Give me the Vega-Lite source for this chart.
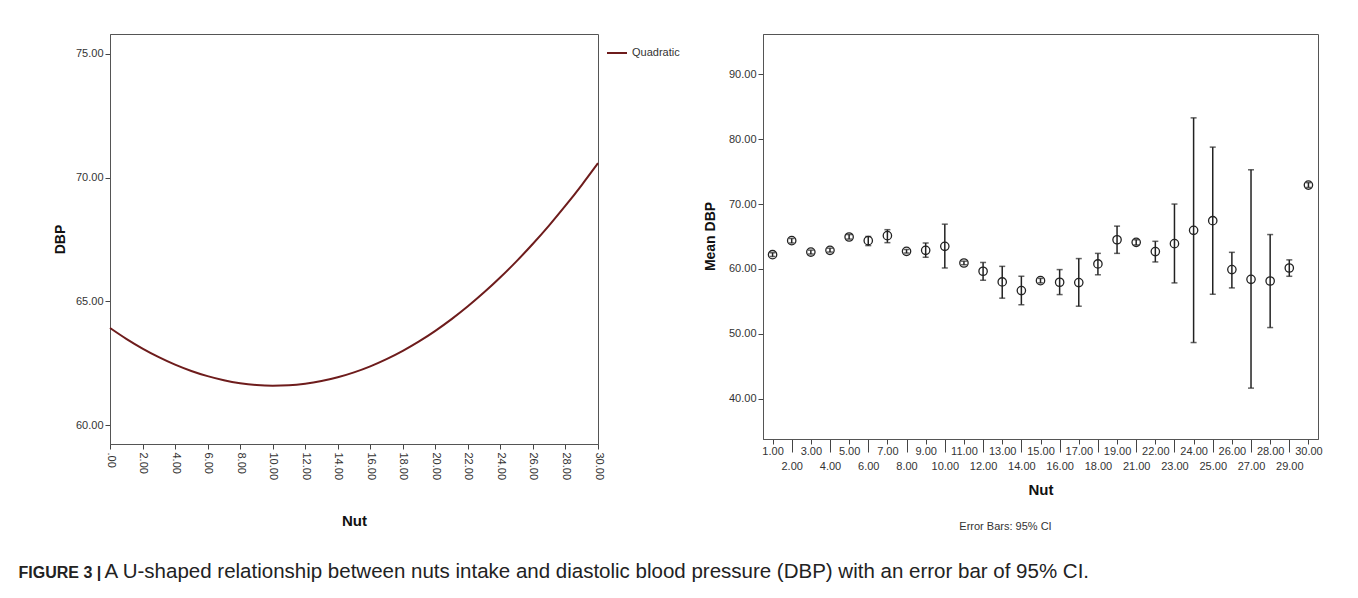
{
  "$schema": "https://vega.github.io/schema/vega-lite/v6.json",
  "background": "white",
  "padding": {"left": 18, "top": 33, "right": 5, "bottom": 5},
  "title": {"text": "FIGURE 3 |", "orient": "bottom", "anchor": "start", "font": "Liberation Sans", "fontSize": 16, "fontWeight": "bold", "color": "#222", "dx": -34, "dy": -17, "offset": 0},
  "vconcat": [
    {
      "title": {"text": "A U-shaped relationship between nuts intake and diastolic blood pressure (DBP) with an error bar of 95% CI.", "orient": "bottom", "anchor": "start", "font": "Liberation Sans", "fontSize": 20.5, "fontWeight": "normal", "color": "#222", "dx": 52, "offset": 29},
      "spacing": 97,
      "hconcat": [
        {
          "width": 488,
          "height": 410,
          "data": {"values": [
            {"Nut": 0, "DBP": 63.93, "model": "Quadratic"},
            {"Nut": 1, "DBP": 63.492, "model": "Quadratic"},
            {"Nut": 2, "DBP": 63.100, "model": "Quadratic"},
            {"Nut": 3, "DBP": 62.754, "model": "Quadratic"},
            {"Nut": 4, "DBP": 62.452, "model": "Quadratic"},
            {"Nut": 5, "DBP": 62.197, "model": "Quadratic"},
            {"Nut": 6, "DBP": 61.987, "model": "Quadratic"},
            {"Nut": 7, "DBP": 61.822, "model": "Quadratic"},
            {"Nut": 8, "DBP": 61.702, "model": "Quadratic"},
            {"Nut": 9, "DBP": 61.628, "model": "Quadratic"},
            {"Nut": 10, "DBP": 61.600, "model": "Quadratic"},
            {"Nut": 11, "DBP": 61.617, "model": "Quadratic"},
            {"Nut": 12, "DBP": 61.680, "model": "Quadratic"},
            {"Nut": 13, "DBP": 61.788, "model": "Quadratic"},
            {"Nut": 14, "DBP": 61.941, "model": "Quadratic"},
            {"Nut": 15, "DBP": 62.140, "model": "Quadratic"},
            {"Nut": 16, "DBP": 62.384, "model": "Quadratic"},
            {"Nut": 17, "DBP": 62.674, "model": "Quadratic"},
            {"Nut": 18, "DBP": 63.009, "model": "Quadratic"},
            {"Nut": 19, "DBP": 63.390, "model": "Quadratic"},
            {"Nut": 20, "DBP": 63.816, "model": "Quadratic"},
            {"Nut": 21, "DBP": 64.288, "model": "Quadratic"},
            {"Nut": 22, "DBP": 64.805, "model": "Quadratic"},
            {"Nut": 23, "DBP": 65.367, "model": "Quadratic"},
            {"Nut": 24, "DBP": 65.975, "model": "Quadratic"},
            {"Nut": 25, "DBP": 66.629, "model": "Quadratic"},
            {"Nut": 26, "DBP": 67.327, "model": "Quadratic"},
            {"Nut": 27, "DBP": 68.072, "model": "Quadratic"},
            {"Nut": 28, "DBP": 68.862, "model": "Quadratic"},
            {"Nut": 29, "DBP": 69.697, "model": "Quadratic"},
            {"Nut": 30, "DBP": 70.578, "model": "Quadratic"}
          ]},
          "mark": {"type": "line", "strokeWidth": 2, "interpolate": "monotone"},
          "encoding": {
            "x": {
              "field": "Nut", "type": "quantitative",
              "scale": {"domain": [0, 30], "nice": false, "zero": false},
              "axis": {
                "values": [0, 2, 4, 6, 8, 10, 12, 14, 16, 18, 20, 22, 24, 26, 28, 30],
                "labelExpr": "datum.value == 0 ? '.00' : format(datum.value, '.2f')",
                "labelAngle": 90, "labelAlign": "left", "labelBaseline": "middle",
                "labelPadding": 3, "labelFlush": false, "labelOverlap": false, "labelBound": false,
                "title": "Nut", "titleY": 76, "titleBaseline": "middle", "titleFontSize": 15
              }
            },
            "y": {
              "field": "DBP", "type": "quantitative",
              "scale": {"domain": [59.25, 75.79], "nice": false, "zero": false},
              "axis": {
                "values": [60, 65, 70, 75], "format": ".2f",
                "title": "DBP", "titleX": -50, "titleY": 205, "titleBaseline": "middle"
              }
            },
            "color": {
              "field": "model", "type": "nominal",
              "scale": {"range": ["#6e1c1c"]},
              "legend": {
                "title": null, "orient": "none", "legendX": 496, "legendY": 8,
                "symbolType": "stroke", "symbolSize": 400, "symbolStrokeWidth": 2,
                "labelFont": "Liberation Sans", "labelFontSize": 11, "labelColor": "#333", "padding": 0
              }
            }
          }
        },
        {
          "width": 555,
          "height": 405,
          "title": {"text": "Error Bars: 95% CI", "orient": "bottom", "anchor": "middle", "font": "Liberation Sans", "fontSize": 11, "fontWeight": "normal", "color": "#333", "dx": -35, "offset": 24},
          "data": {"values": [
            {"Nut": "1.00", "mean": 62.2, "lo": 61.9, "hi": 62.5},
            {"Nut": "2.00", "mean": 64.36, "lo": 64.0, "hi": 64.7},
            {"Nut": "3.00", "mean": 62.6, "lo": 62.3, "hi": 62.9},
            {"Nut": "4.00", "mean": 62.87, "lo": 62.6, "hi": 63.2},
            {"Nut": "5.00", "mean": 64.92, "lo": 64.6, "hi": 65.3},
            {"Nut": "6.00", "mean": 64.36, "lo": 63.6, "hi": 65.0},
            {"Nut": "7.00", "mean": 65.13, "lo": 64.05, "hi": 66.05},
            {"Nut": "8.00", "mean": 62.72, "lo": 62.45, "hi": 63.0},
            {"Nut": "9.00", "mean": 62.87, "lo": 61.8, "hi": 64.0},
            {"Nut": "10.00", "mean": 63.49, "lo": 60.15, "hi": 66.9},
            {"Nut": "11.00", "mean": 60.92, "lo": 60.65, "hi": 61.2},
            {"Nut": "12.00", "mean": 59.64, "lo": 58.26, "hi": 61.0},
            {"Nut": "13.00", "mean": 58.0, "lo": 55.5, "hi": 60.4},
            {"Nut": "14.00", "mean": 56.67, "lo": 54.5, "hi": 58.87},
            {"Nut": "15.00", "mean": 58.2, "lo": 57.85, "hi": 58.55},
            {"Nut": "16.00", "mean": 57.95, "lo": 56.05, "hi": 59.9},
            {"Nut": "17.00", "mean": 57.9, "lo": 54.26, "hi": 61.6},
            {"Nut": "18.00", "mean": 60.77, "lo": 59.1, "hi": 62.4},
            {"Nut": "19.00", "mean": 64.5, "lo": 62.4, "hi": 66.6},
            {"Nut": "21.00", "mean": 64.1, "lo": 63.7, "hi": 64.5},
            {"Nut": "22.00", "mean": 62.67, "lo": 61.08, "hi": 64.26},
            {"Nut": "23.00", "mean": 63.9, "lo": 57.85, "hi": 70.0},
            {"Nut": "24.00", "mean": 65.95, "lo": 48.66, "hi": 83.28},
            {"Nut": "25.00", "mean": 67.44, "lo": 56.1, "hi": 78.77},
            {"Nut": "26.00", "mean": 59.9, "lo": 57.08, "hi": 62.56},
            {"Nut": "27.00", "mean": 58.4, "lo": 41.64, "hi": 75.28},
            {"Nut": "28.00", "mean": 58.15, "lo": 50.97, "hi": 65.3},
            {"Nut": "29.00", "mean": 60.15, "lo": 58.87, "hi": 61.4},
            {"Nut": "30.00", "mean": 72.92, "lo": 72.55, "hi": 73.3}
          ]},
          "encoding": {
            "x": {
              "field": "Nut", "type": "ordinal",
              "scale": {"type": "point", "padding": 0.5, "domain": ["1.00","2.00","3.00","4.00","5.00","6.00","7.00","8.00","9.00","10.00","11.00","12.00","13.00","14.00","15.00","16.00","17.00","18.00","19.00","21.00","22.00","23.00","24.00","25.00","26.00","27.00","28.00","29.00","30.00"]},
              "axis": {
                "labelAngle": 0, "labelAlign": "center", "labelBaseline": "top",
                "labelOverlap": false, "labelFlush": false, "labelBound": false,
                "tickSize": {"condition": {"test": "indexof(['2.00','4.00','6.00','8.00','10.00','12.00','14.00','16.00','18.00','21.00','23.00','25.00','27.00','29.00'], datum.value) >= 0", "value": 13}, "value": 5},
                "labelPadding": {"condition": {"test": "indexof(['2.00','4.00','6.00','8.00','10.00','12.00','14.00','16.00','18.00','21.00','23.00','25.00','27.00','29.00'], datum.value) >= 0", "value": 8}, "value": 1},
                "title": "Nut", "titleY": 50, "titleBaseline": "middle", "titleFontSize": 15
              }
            }
          },
          "layer": [
            {
              "mark": {"type": "rule", "color": "#222", "strokeWidth": 1.5},
              "encoding": {
                "y": {
                  "field": "lo", "type": "quantitative", "title": "Mean DBP",
                  "scale": {"domain": [33.8, 96.2], "nice": false, "zero": false},
                  "axis": {"values": [40, 50, 60, 70, 80, 90], "format": ".2f", "titleX": -53, "titleY": 202, "titleBaseline": "middle"}
                },
                "y2": {"field": "hi"}
              }
            },
            {
              "mark": {"type": "tick", "color": "#222", "thickness": 1.5, "size": 6},
              "encoding": {"y": {"field": "lo", "type": "quantitative", "title": "Mean DBP"}}
            },
            {
              "mark": {"type": "tick", "color": "#222", "thickness": 1.5, "size": 6},
              "encoding": {"y": {"field": "hi", "type": "quantitative", "title": "Mean DBP"}}
            },
            {
              "mark": {"type": "point", "shape": "circle", "filled": false, "color": "#222", "strokeWidth": 1.3, "size": 70, "opacity": 1},
              "encoding": {"y": {"field": "mean", "type": "quantitative", "title": "Mean DBP"}}
            }
          ]
        }
      ]
    }
  ],
  "config": {
    "font": "Liberation Sans",
    "view": {"stroke": "#555", "strokeWidth": 1},
    "axis": {
      "domainColor": "#555", "tickColor": "#444", "labelColor": "#333",
      "labelFont": "Liberation Sans", "labelFontSize": 11,
      "titleFont": "Liberation Sans", "titleFontSize": 14, "titleFontWeight": "bold", "titleColor": "#111",
      "grid": false, "tickSize": 5, "labelPadding": 2
    }
  }
}
